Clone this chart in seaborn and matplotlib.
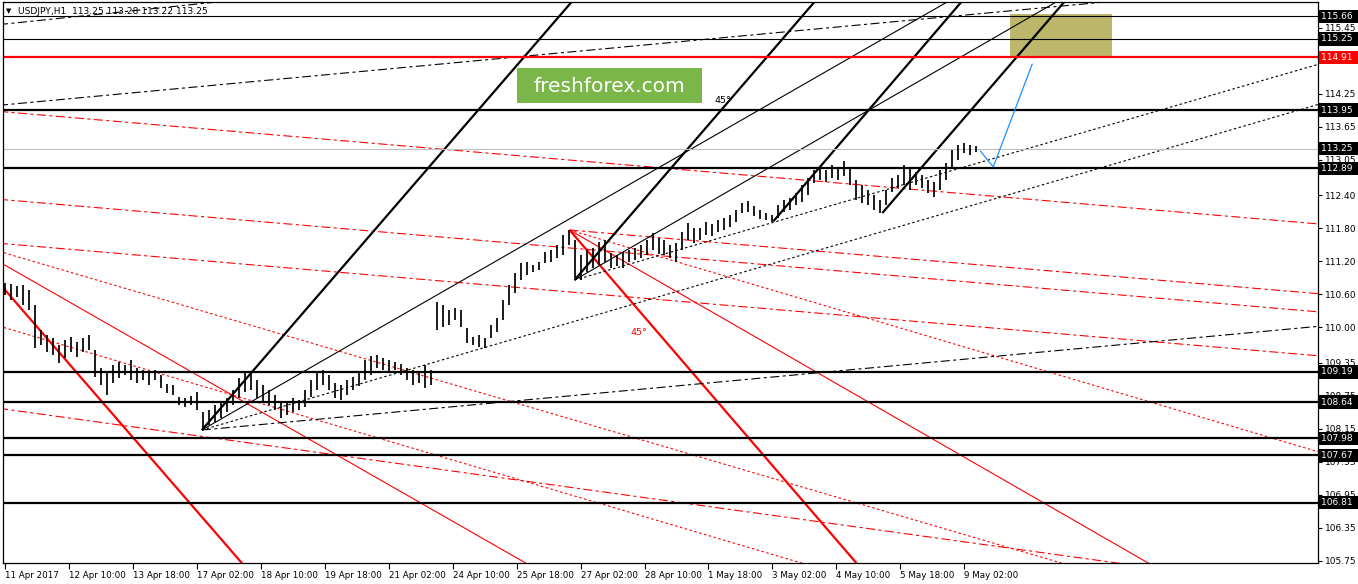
import numpy as np
import matplotlib
matplotlib.use('Agg')
import matplotlib.pyplot as plt
import matplotlib.transforms as mtransforms
from matplotlib.patches import Rectangle
import seaborn as sns

# %%
# USDJPY H1 price bars, one bar drawn every 3 hours from 11 Apr 02:00

highs = [110.81, 110.79, 110.75, 110.77, 110.68, 110.40, 109.95, 109.86, 109.81, 109.68,
         109.77, 109.82, 109.73, 109.81, 109.86, 109.59, 109.26, 109.19, 109.32, 109.37,
         109.32, 109.41, 109.26, 109.22, 109.19, 109.22, 109.13, 108.97, 108.95, 108.73,
         108.72, 108.75, 108.82, 108.46, 108.50, 108.59, 108.64, 108.72, 108.86, 109.08,
         109.19, 109.15, 109.04, 108.95, 108.86, 108.77, 108.62, 108.64, 108.72, 108.68,
         108.86, 109.04, 109.17, 109.22, 109.13, 108.99, 108.95, 109.04, 109.10, 109.19,
         109.41, 109.48, 109.50, 109.44, 109.41, 109.37, 109.33, 109.26, 109.22, 109.19,
         109.32, 109.22, 110.46, 110.40, 110.31, 110.35, 110.31, 109.99, 109.82, 109.86,
         109.81, 110.04, 110.17, 110.50, 110.77, 110.99, 111.17, 111.19, 111.13, 111.19,
         111.37, 111.41, 111.50, 111.68, 111.77, 111.59, 111.32, 111.41, 111.44, 111.55,
         111.59, 111.35, 111.32, 111.37, 111.41, 111.44, 111.50, 111.59, 111.72, 111.63,
         111.59, 111.50, 111.53, 111.73, 111.90, 111.81, 111.81, 111.92, 111.88, 111.95,
         111.99, 112.04, 112.13, 112.26, 112.30, 112.21, 112.13, 112.08, 112.04, 112.23,
         112.32, 112.35, 112.44, 112.59, 112.72, 112.86, 112.92, 112.86, 112.95, 112.90,
         113.03, 112.90, 112.68, 112.59, 112.50, 112.41, 112.32, 112.50, 112.72, 112.77,
         112.95, 112.90, 112.83, 112.77, 112.68, 112.65, 112.86, 112.99, 113.23, 113.32,
         113.35, 113.32, 113.30]
lows = [110.59, 110.50, 110.55, 110.40, 110.31, 109.62, 109.68, 109.55, 109.50, 109.35,
        109.44, 109.55, 109.46, 109.55, 109.59, 109.10, 108.95, 108.77, 108.99, 109.08,
        109.13, 109.04, 108.99, 109.04, 108.95, 109.04, 108.90, 108.81, 108.77, 108.59,
        108.55, 108.59, 108.50, 108.13, 108.22, 108.28, 108.35, 108.46, 108.59, 108.72,
        108.82, 108.86, 108.72, 108.63, 108.59, 108.50, 108.35, 108.40, 108.46, 108.50,
        108.55, 108.73, 108.86, 108.95, 108.86, 108.72, 108.68, 108.77, 108.86, 108.93,
        109.04, 109.13, 109.26, 109.22, 109.19, 109.22, 109.13, 109.04, 108.95, 108.99,
        108.90, 108.95, 109.95, 110.00, 110.04, 110.13, 110.00, 109.72, 109.68, 109.64,
        109.62, 109.81, 109.91, 110.13, 110.40, 110.62, 110.86, 110.95, 111.01, 111.04,
        111.17, 111.19, 111.26, 111.32, 111.50, 110.90, 110.86, 111.01, 111.08, 111.13,
        111.19, 111.08, 111.11, 111.08, 111.19, 111.22, 111.26, 111.32, 111.41, 111.33,
        111.32, 111.26, 111.19, 111.41, 111.59, 111.53, 111.59, 111.68, 111.66, 111.73,
        111.77, 111.82, 111.92, 112.08, 112.10, 112.03, 111.97, 111.95, 111.92, 111.99,
        112.10, 112.13, 112.23, 112.28, 112.41, 112.63, 112.68, 112.64, 112.72, 112.68,
        112.75, 112.59, 112.32, 112.26, 112.23, 112.13, 112.08, 112.23, 112.46, 112.53,
        112.59, 112.50, 112.59, 112.53, 112.44, 112.37, 112.50, 112.68, 112.90, 113.05,
        113.17, 113.14, 113.19]

# horizontal levels
level_thin = [115.66, 115.25]
level_red = [114.91]
level_thick = [113.95, 112.89, 109.19, 108.64, 107.98, 107.67, 106.81]
bid_price = 113.25

# trend lines: (hour0, price0, hour1, price1); rays start at the first point
thick_black = [(98.5, 108.13, 283.5, 115.92), (285, 110.86, 405, 115.92),
               (384.5, 111.93, 478.5, 115.92), (439, 112.08, 530, 115.92)]
thin_black = [(98.5, 108.13, 469.5, 115.88), (285, 110.86, 525, 115.90)]
dashdot_black = [(0, 114.05, 544.5, 115.90), (0, 115.52, 106, 115.92),
                 (98.5, 108.13, 655, 110.01)]
dotted_black = [(98.5, 108.13, 657.5, 114.06), (285, 110.86, 657.5, 114.79)]
thick_red = [(0, 110.68, 118.5, 105.71), (282.5, 111.77, 426, 105.71)]
thin_red = [(0, 111.13, 260.5, 105.71), (282.5, 111.77, 572, 105.71)]
dotted_red = [(282.5, 111.77, 657.5, 107.73), (0, 111.35, 528.5, 105.71),
              (0, 109.99, 398.5, 105.71)]
dashed_red = [(0, 113.92, 657.5, 111.88), (282.5, 111.77, 657.5, 110.61),
              (0, 112.32, 657.5, 110.28), (0, 111.52, 657.5, 109.48),
              (0, 108.51, 556.5, 105.71)]

# projected path and target zone
path_hours = [488, 494.5, 514]
path_prices = [113.21, 112.92, 114.79]
zone_hours = (503, 554)
zone_prices = (114.91, 115.70)

y_ticks = [115.45, 114.85, 114.25, 113.65, 113.05, 112.40, 111.80, 111.20, 110.60,
           110.00, 109.35, 108.75, 108.15, 107.55, 106.95, 106.35, 105.75]
x_labels = ['11 Apr 2017', '12 Apr 10:00', '13 Apr 18:00', '17 Apr 02:00', '18 Apr 10:00',
            '19 Apr 18:00', '21 Apr 02:00', '24 Apr 10:00', '25 Apr 18:00', '27 Apr 02:00',
            '28 Apr 10:00', '1 May 18:00', '3 May 02:00', '4 May 10:00', '5 May 18:00',
            '9 May 02:00']

# %%

sns.set_theme(style='white')
plt.rcParams['font.family'] = ['DejaVu Sans']
plt.rcParams['lines.scale_dashes'] = False

W, H = 1358, 584
fig = plt.figure(figsize=(W / 100, H / 100), dpi=100)
ax = fig.add_axes([3 / W, (H - 563) / H, (1318 - 3) / W, (563 - 2) / H])
ax.set_facecolor('white')


def draw_rays(lines, **kw):
    for x0, y0, x1, y1 in lines:
        s = (y1 - y0) / (x1 - x0)
        start = x0 - 200 if x0 == 0 else x0
        xs = [start, 900]
        ys = [y0 + s * (x - x0) for x in xs]
        ax.plot(xs, ys, solid_capstyle='butt', **kw)


dash_dot = (0, (6.5, 2.5, 2.2, 2.5))
dots = (0, (1.8, 1.8))

draw_rays(dashed_red, color='red', lw=0.8, linestyle=dash_dot)
draw_rays(dotted_red, color='red', lw=0.8, linestyle=dots)
draw_rays(thin_red, color='red', lw=0.8)
draw_rays(thick_red, color='red', lw=1.6)
draw_rays(dashdot_black, color='black', lw=0.8, linestyle=dash_dot)
draw_rays(dotted_black, color='black', lw=0.8, linestyle=dots)
draw_rays(thin_black, color='black', lw=0.8)
draw_rays(thick_black, color='black', lw=1.6)

for p in level_thin:
    ax.axhline(p, color='black', lw=0.8)
for p in level_red:
    ax.axhline(p, color='red', lw=1.6)
for p in level_thick:
    ax.axhline(p, color='black', lw=1.6)
ax.axhline(bid_price, color='#c0c0c0', lw=0.8)

# price bars
bar_hours = np.arange(len(highs)) * 3
ax.vlines(bar_hours, lows, highs, color='black', lw=1.25, zorder=4)

# target zone and projected path
ax.add_patch(Rectangle((zone_hours[0], zone_prices[0]), zone_hours[1] - zone_hours[0],
                       zone_prices[1] - zone_prices[0], color='#bdb76b', lw=0, zorder=1))
sns.lineplot(x=path_hours, y=path_prices, sort=False, color='#1e90ff', lw=0.9, ax=ax,
             zorder=5)

ax.text(359, 114.12, '45°', color='black', fontsize=6.8, ha='center', va='center')
ax.text(317, 109.90, '45°', color='red', fontsize=6.8, ha='center', va='center')

ax.set_xlim(-1, 657)
ax.set_ylim(105.71, 115.92)

# axes
for sp in ax.spines.values():
    sp.set_visible(True)
    sp.set_color('black')
    sp.set_linewidth(0.9)
ax.yaxis.tick_right()
ax.set_yticks(y_ticks)
ax.set_yticklabels([f'{v:.2f}' for v in y_ticks])
ax.set_xticks(np.arange(len(x_labels)) * 32)
ax.set_xticklabels(x_labels, ha='left')
ax.tick_params(axis='y', right=True, left=False, direction='out', length=3, width=0.8,
               pad=2, labelsize=6.5, colors='black')
ax.tick_params(axis='x', bottom=True, direction='out', length=4, width=0.8, pad=2,
               labelsize=6.3, colors='black')
ax.set_xlabel('')
ax.set_ylabel('')
ax.grid(False)

# boxed level labels on the price scale
trans = mtransforms.blended_transform_factory(ax.transAxes, ax.transData)
box_levels = [115.66, 115.25, 114.91, 113.95, 113.25, 112.89, 109.19, 108.64, 107.98,
              107.67, 106.81]
for p in box_levels:
    bg = 'red' if p in level_red else 'black'
    ax.text(1.0025, p, f'{p:.2f}  ', transform=trans, color='white', fontsize=6.5,
            ha='left', va='center', clip_on=False, zorder=10,
            bbox=dict(boxstyle='square,pad=0.25', fc=bg, ec='none'))

# header
fig.text(6 / W, 1 - 11 / H, '▼', fontsize=5, color='black', va='center')
fig.text(18 / W, 1 - 11 / H, 'USDJPY,H1  113.25 113.28 113.22 113.25', fontsize=6.6,
         color='black', va='center')

# watermark
fig.add_artist(Rectangle((517 / W, 1 - 103 / H), 185 / W, 35 / H,
                         transform=fig.transFigure, color='#7ab648', lw=0, zorder=20))
fig.text(609.5 / W, 1 - 86 / H, 'freshforex.com', fontsize=14.5, color='white',
         ha='center', va='center', zorder=21)

fig.savefig('out.png', dpi=100, facecolor='white')
